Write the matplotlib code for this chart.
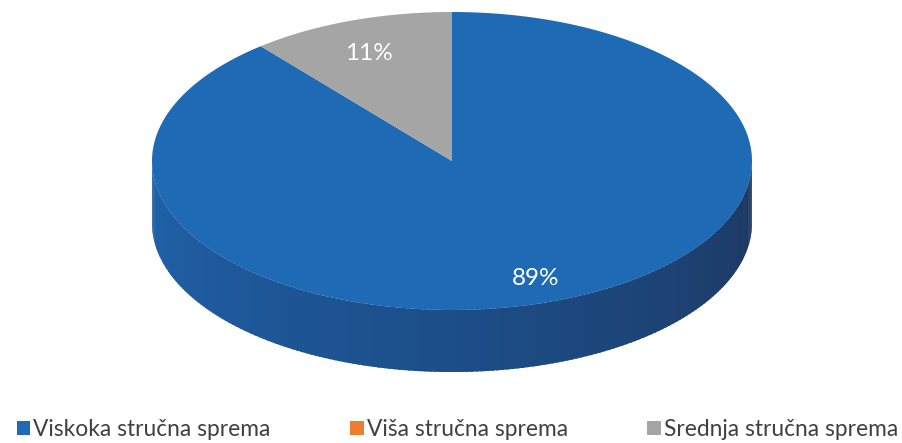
import numpy as np
import matplotlib.pyplot as plt
from matplotlib.patches import Polygon, Patch
from matplotlib.colors import to_rgb

plt.rcParams['font.family'] = ['Lato', 'DejaVu Sans']

# data
categories = ['Viskoka stručna sprema', 'Viša stručna sprema', 'Srednja stručna sprema']
shares = [89, 0, 11]
labels = ['89%', '', '11%']
colors = ['#1F6AB4', '#ED7D31', '#A5A5A5']

# 3d pie geometry (pixel space)
CX, CY = 452, 161
RX, RY = 300, 149
DEPTH = 62
side_stops = ['#2062AA', '#1C4E88', '#1E3760']


def ell(t, dy=0):
    return CX + RX * np.cos(t), CY - RY * np.sin(t) + dy


def side_color(t):
    # t in degrees between 180 and 360
    f = (t - 180) / 180 * 2
    i = min(int(f), 1)
    w = f - i
    a, b = np.array(to_rgb(side_stops[i])), np.array(to_rgb(side_stops[i + 1]))
    return a * (1 - w) + b * w


fig = plt.figure(figsize=(9.02, 4.43), dpi=100)
ax = fig.add_axes([0, 0, 1, 1])
ax.set_xlim(0, 902)
ax.set_ylim(443, 0)
ax.axis('off')

# slices run clockwise from 12 o'clock
total = sum(shares)
end = 90.0
spans = []
for v in shares:
    start = end - v / total * 360
    spans.append((start, end))
    end = start

# side walls (front half only)
for (a0, a1), col in zip(spans, colors):
    for shift in (0, 360, -360):
        s, e = max(a0 + shift, 180), min(a1 + shift, 360)
        if e <= s:
            continue
        steps = np.linspace(s, e, int(e - s) + 2)
        for t0, t1 in zip(steps[:-1], steps[1:]):
            tt = np.radians(np.linspace(t0, t1 + 0.6, 4))
            x, y = ell(tt)
            xb, yb = ell(tt[::-1], DEPTH)
            pts = np.column_stack([np.r_[x, xb], np.r_[y, yb]])
            ax.add_patch(Polygon(pts, closed=True, fc=side_color((t0 + t1) / 2), ec='none'))

# top faces
for (a0, a1), col in zip(spans, colors):
    if a1 - a0 <= 0:
        continue
    tt = np.radians(np.linspace(a0, a1, 400))
    x, y = ell(tt)
    pts = np.column_stack([np.r_[CX, x], np.r_[CY, y]])
    ax.add_patch(Polygon(pts, closed=True, fc=col, ec='none'))

# percentage labels
for (a0, a1), lab in zip(spans, labels):
    if not lab:
        continue
    m = np.radians((a0 + a1) / 2)
    x, y = CX + 0.82 * RX * np.cos(m), CY - 0.8 * RY * np.sin(m) + 5
    ax.text(x, y, lab, color='white', fontsize=17.5, ha='center', va='center')

handles = [Patch(fc=c, ec='none') for c in colors]
fig.legend(handles, categories, loc='lower left', bbox_to_anchor=(-0.0043, -0.04),
           ncol=3, frameon=False, fontsize=16.4, handlelength=0.6, handleheight=0.6,
           handletextpad=0.12, columnspacing=3.5, labelcolor='#404040')

fig.savefig('out.png', dpi=100)
